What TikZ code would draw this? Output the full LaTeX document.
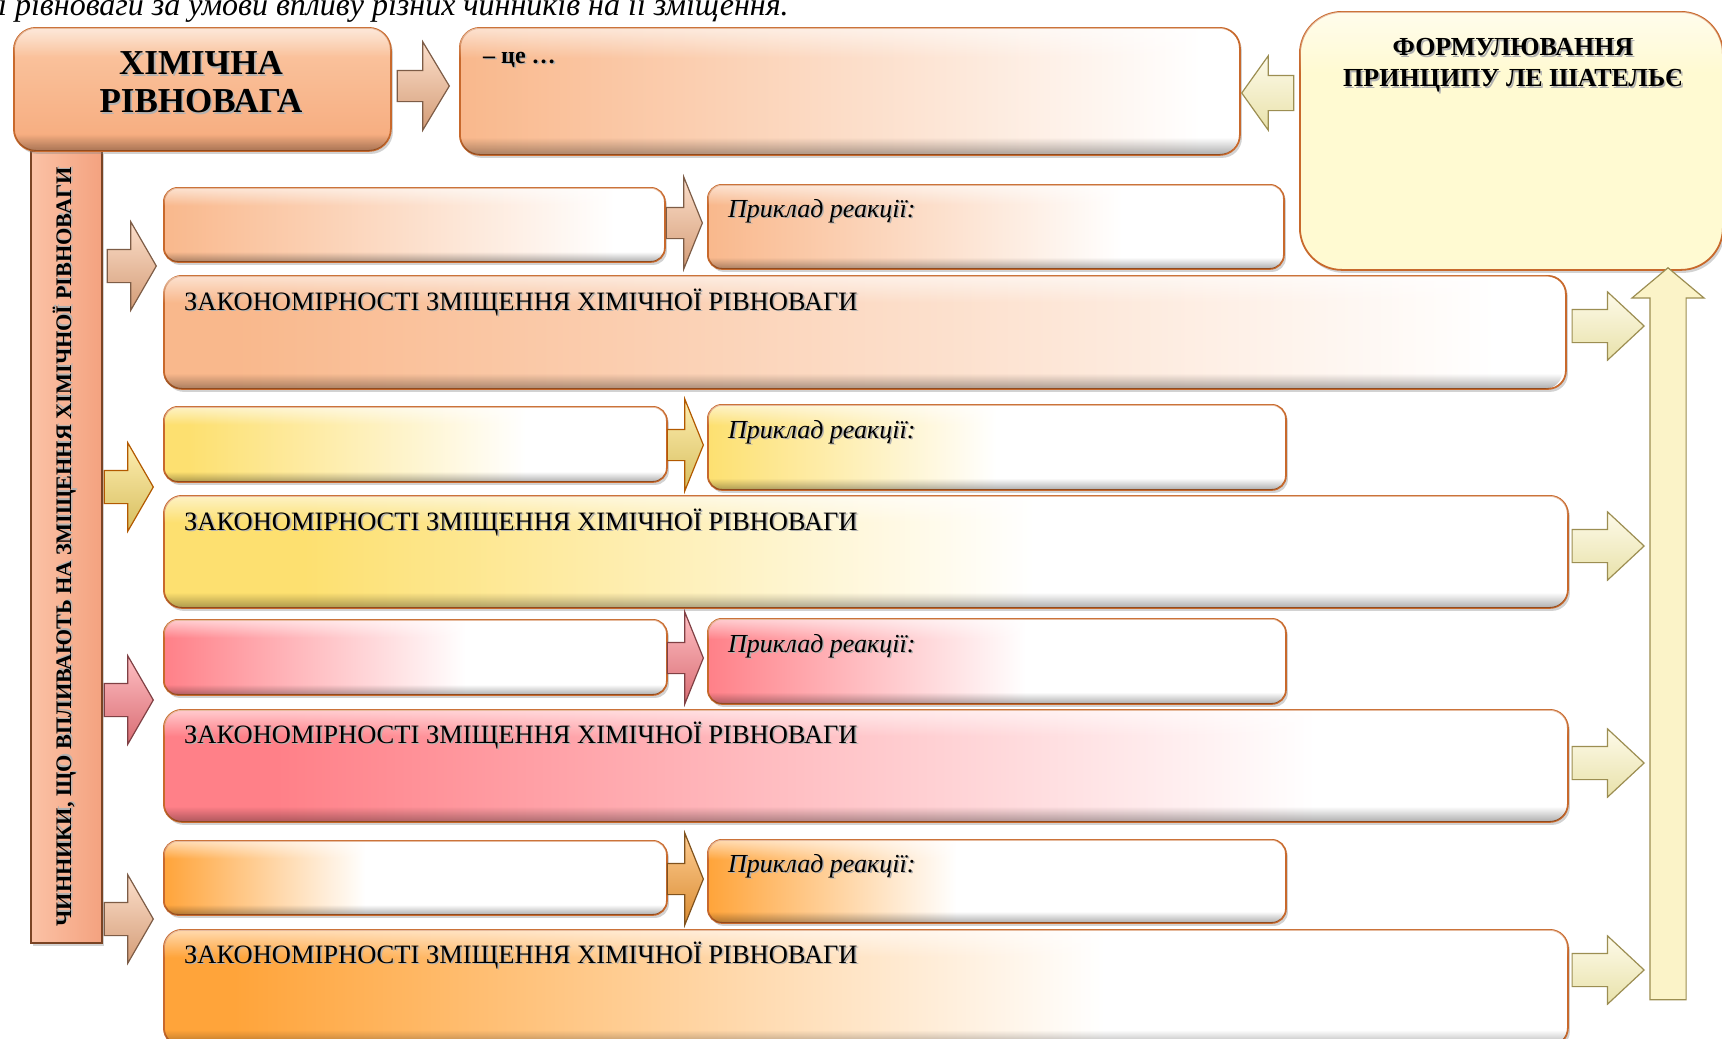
\documentclass[tikz,border=0pt]{standalone}
\usepackage{fontspec}
\setmainfont{Liberation Serif}
\usetikzlibrary{shapes.arrows,shadows,fadings}

% palette
\definecolor{edgeO}{HTML}{C8692C}
\definecolor{peach}{HTML}{F9B88C}
\definecolor{yel}{HTML}{FDE070}
\definecolor{pinkr}{HTML}{FF8088}
\definecolor{orng}{HTML}{FFA43A}
\definecolor{cream}{HTML}{FFFAD2}
\definecolor{creamArr}{HTML}{FBF3C8}
\definecolor{creamEdge}{HTML}{9C8E52}
\definecolor{barTop}{HTML}{FBC2A6}
\definecolor{barBot}{HTML}{F4A27F}
\definecolor{barEdge}{HTML}{7A4424}
\definecolor{hrTop}{HTML}{FBC8A4}
\definecolor{hrBot}{HTML}{F6AA7C}

% left-to-right fades: colour on the left, white towards the right
\pgfdeclarehorizontalshading{defS}{100bp}{color(0bp)=(peach); color(25bp)=(peach); color(72.5bp)=(white); color(100bp)=(white)}
\pgfdeclarehorizontalshading{aOneS}{100bp}{color(0bp)=(peach); color(25bp)=(peach); color(70bp)=(white); color(100bp)=(white)}
\pgfdeclarehorizontalshading{pOneS}{100bp}{color(0bp)=(peach); color(25bp)=(peach); color(61bp)=(white); color(100bp)=(white)}
\pgfdeclarehorizontalshading{zOneS}{100bp}{color(0bp)=(peach); color(27.5bp)=(peach); color(72.5bp)=(white); color(100bp)=(white)}
\pgfdeclarehorizontalshading{aTwoS}{100bp}{color(0bp)=(yel); color(27.5bp)=(yel); color(61bp)=(white); color(100bp)=(white)}
\pgfdeclarehorizontalshading{pTwoS}{100bp}{color(0bp)=(yel); color(25bp)=(yel); color(50bp)=(white); color(100bp)=(white)}
\pgfdeclarehorizontalshading{zTwoS}{100bp}{color(0bp)=(yel); color(30bp)=(yel); color(56bp)=(white); color(100bp)=(white)}
\pgfdeclarehorizontalshading{aThreeS}{100bp}{color(0bp)=(pinkr); color(25bp)=(pinkr); color(55bp)=(white); color(100bp)=(white)}
\pgfdeclarehorizontalshading{pThreeS}{100bp}{color(0bp)=(pinkr); color(25bp)=(pinkr); color(52.5bp)=(white); color(100bp)=(white)}
\pgfdeclarehorizontalshading{zThreeS}{100bp}{color(0bp)=(pinkr); color(29bp)=(pinkr); color(66bp)=(white); color(100bp)=(white)}
\pgfdeclarehorizontalshading{aFourS}{100bp}{color(0bp)=(orng); color(25bp)=(orng); color(45bp)=(white); color(100bp)=(white)}
\pgfdeclarehorizontalshading{pFourS}{100bp}{color(0bp)=(orng); color(25bp)=(orng); color(46.5bp)=(white); color(100bp)=(white)}
\pgfdeclarehorizontalshading{zFourS}{100bp}{color(0bp)=(orng); color(27.5bp)=(orng); color(58.5bp)=(white); color(100bp)=(white)}

% bevel: light band at the top, thin soft shade at the bottom
\pgfdeclareverticalshading{glossS}{100bp}{color(0bp)=(black); color(63bp)=(black); color(74bp)=(black!45); color(100bp)=(black!45)}
\pgfdeclarefading{gloss}{\pgfuseshading{glossS}}
\pgfdeclareverticalshading{lowS}{100bp}{color(0bp)=(black!72); color(26bp)=(black!72); color(32bp)=(black); color(100bp)=(black)}
\pgfdeclarefading{lowshade}{\pgfuseshading{lowS}}

% text with a soft grey offset shadow behind it
\newcommand\shtext[1]{\leavevmode\rlap{\kern1.6pt\raisebox{-1.6pt}{\textcolor{black!30}{#1}}}#1}

\tikzset{
  plainbox/.style={draw=edgeO, line width=1.8pt, anchor=north west, inner sep=0pt,
    rounded corners=14pt,
    drop shadow={shadow xshift=2pt, shadow yshift=-3pt, opacity=0.35},
    postaction={fill=white, path fading=gloss}},
  box/.style={plainbox, postaction={fill=black, path fading=lowshade}},
  blockarrow/.style={single arrow, inner xsep=0pt, line width=1.2pt, anchor=tip},
  peachA/.style={top color=peach!45, bottom color=peach!85!black, draw=peach!50!black},
  yelA/.style={top color=yel!55, bottom color=yel!85!black, draw=orange!70!black},
  pinkA/.style={top color=pinkr!50, bottom color=pinkr!85!black, draw=pinkr!50!black},
  orngA/.style={top color=orng!55, bottom color=orng!85!black, draw=orng!50!black},
  creamA/.style={top color=creamArr!40, bottom color=creamArr!85!olive, draw=creamEdge},
  barrow/.style={blockarrow, minimum height=49pt, inner ysep=16pt,
    single arrow head extend=27.5pt, single arrow tip angle=120},
  midarrow/.style={blockarrow, minimum height=36pt, inner ysep=15pt,
    single arrow head extend=30.5pt, single arrow tip angle=136},
  outarrow/.style={blockarrow, creamA, minimum height=72pt, inner ysep=16pt,
    single arrow head extend=17.5pt, single arrow tip angle=86},
  zfont/.style={font=\fontsize{26.5}{30}\selectfont},
  pfont/.style={font=\itshape\fontsize{26}{30}\selectfont},
}

\begin{document}
\begin{tikzpicture}[x=1pt,y=-1pt]
\useasboundingbox (0,0) rectangle (1722,1039);
\clip (0,0) rectangle (1722,1039);
\fill[white] (0,0) rectangle (1722,1039);

% caption line running into the top edge
\node[anchor=base west, inner sep=0pt, font=\itshape\fontsize{32}{36}\selectfont] (cap) at (-2,15)
  {і рівноваги за умови впливу різних чинників на її зміщення.};

% vertical bar with the factors heading
\node[draw=barEdge, line width=1.5pt, anchor=north west, inner sep=0pt,
  left color=barTop, right color=barBot, minimum width=71pt, minimum height=792pt,
  drop shadow={shadow xshift=2pt, shadow yshift=-3pt, opacity=0.35}] (bar) at (30,150) {};
\node[rotate=90, inner sep=0pt, font=\bfseries\fontsize{22.2}{26}\selectfont] (bart) at (65,547)
  {\shtext{ЧИННИКИ, ЩО ВПЛИВАЮТЬ НА ЗМІЩЕННЯ ХІМІЧНОЇ РІВНОВАГИ}};

% top row
\node[box, rounded corners=22pt, top color=hrTop, bottom color=hrBot,
  minimum width=377pt, minimum height=123pt] (hr) at (13,27) {};
\node[align=center, inner sep=0pt, font=\bfseries\fontsize{35}{38}\selectfont] (hrt) at (201,83)
  {\shtext{ХІМІЧНА}\\\shtext{РІВНОВАГА}};

\node[box, rounded corners=20pt, shading=defS, minimum width=780pt, minimum height=127pt] (def) at (459,27) {};
\node[anchor=base west, inner sep=0pt, font=\bfseries\fontsize{24}{28}\selectfont] (deft)
  at ([xshift=24pt,yshift=-36pt]def.north west) {\shtext{– це …}};

\node[plainbox, rounded corners=42pt, fill=cream, minimum width=423pt, minimum height=258pt] (lc) at (1299,11) {};
\node[align=center, inner sep=0pt, font=\bfseries\fontsize{26}{31}\selectfont] (lct) at (1513,66)
  {\shtext{ФОРМУЛЮВАННЯ}\\\shtext{ПРИНЦИПУ ЛЕ ШАТЕЛЬЄ}};

\node[blockarrow, peachA, minimum height=52pt, inner ysep=15pt,
  single arrow head extend=28.5pt, single arrow tip angle=118] (hrarr) at (450,86) {};
\node[blockarrow, creamA, rotate=180, minimum height=52pt, inner ysep=17pt,
  single arrow head extend=19.5pt, single arrow tip angle=109] (lcarr) at (1241,93) {};

% row 1
\node[box, shading=aOneS, minimum width=501pt, minimum height=74pt] (a1) at (163,187) {};
\node[box, shading=pOneS, minimum width=576pt, minimum height=84pt] (p1) at (707,184) {};
\node[box, rounded corners=18pt, shading=zOneS, minimum width=1402pt, minimum height=113pt] (z1) at (163,275) {};
\node[pfont, anchor=base west, inner sep=0pt] (p1t) at ([xshift=21pt,yshift=-33pt]p1.north west) {\shtext{Приклад реакції:}};
\node[zfont, anchor=base west, inner sep=0pt] (z1t) at ([xshift=21pt,yshift=-35pt]z1.north west) {\shtext{ЗАКОНОМІРНОСТІ ЗМІЩЕННЯ ХІМІЧНОЇ РІВНОВАГИ}};
\node[barrow, peachA] (b1) at (157,266) {};
\node[midarrow, peachA] (m1) at (703,223) {};
\node[outarrow] (o1) at (1645,326) {};

% row 2
\node[box, shading=aTwoS, minimum width=503pt, minimum height=75pt] (a2) at (163,406) {};
\node[box, shading=pTwoS, minimum width=578pt, minimum height=85pt] (p2) at (707,404) {};
\node[box, rounded corners=18pt, shading=zTwoS, minimum width=1404pt, minimum height=112pt] (z2) at (163,495) {};
\node[pfont, anchor=base west, inner sep=0pt] (p2t) at ([xshift=21pt,yshift=-34pt]p2.north west) {\shtext{Приклад реакції:}};
\node[zfont, anchor=base west, inner sep=0pt] (z2t) at ([xshift=21pt,yshift=-35pt]z2.north west) {\shtext{ЗАКОНОМІРНОСТІ ЗМІЩЕННЯ ХІМІЧНОЇ РІВНОВАГИ}};
\node[barrow, yelA] (b2) at (154,487) {};
\node[midarrow, yelA] (m2) at (704,445) {};
\node[outarrow] (o2) at (1645,546) {};

% row 3
\node[box, shading=aThreeS, minimum width=503pt, minimum height=75pt] (a3) at (163,619) {};
\node[box, shading=pThreeS, minimum width=578pt, minimum height=85pt] (p3) at (707,618) {};
\node[box, rounded corners=18pt, shading=zThreeS, minimum width=1404pt, minimum height=112pt] (z3) at (163,709) {};
\node[pfont, anchor=base west, inner sep=0pt] (p3t) at ([xshift=21pt,yshift=-34pt]p3.north west) {\shtext{Приклад реакції:}};
\node[zfont, anchor=base west, inner sep=0pt] (z3t) at ([xshift=21pt,yshift=-34pt]z3.north west) {\shtext{ЗАКОНОМІРНОСТІ ЗМІЩЕННЯ ХІМІЧНОЇ РІВНОВАГИ}};
\node[barrow, pinkA] (b3) at (154,700) {};
\node[midarrow, pinkA] (m3) at (704,658) {};
\node[outarrow] (o3) at (1645,763) {};

% row 4
\node[box, shading=aFourS, minimum width=503pt, minimum height=74pt] (a4) at (163,840) {};
\node[box, shading=pFourS, minimum width=578pt, minimum height=83pt] (p4) at (707,839) {};
\node[box, rounded corners=18pt, shading=zFourS, minimum width=1404pt, minimum height=116pt] (z4) at (163,929) {};
\node[pfont, anchor=base west, inner sep=0pt] (p4t) at ([xshift=21pt,yshift=-33pt]p4.north west) {\shtext{Приклад реакції:}};
\node[zfont, anchor=base west, inner sep=0pt] (z4t) at ([xshift=21pt,yshift=-34pt]z4.north west) {\shtext{ЗАКОНОМІРНОСТІ ЗМІЩЕННЯ ХІМІЧНОЇ РІВНОВАГИ}};
\node[barrow, peachA] (b4) at (154,919) {};
\node[midarrow, orngA] (m4) at (704,879) {};
\node[outarrow] (o4) at (1645,970) {};

% long upward arrow into the Le Chatelier box
\node[blockarrow, fill=creamArr, draw=creamEdge, rotate=90, minimum height=732pt, inner ysep=17.5pt,
  single arrow head extend=18pt, single arrow tip angle=100] (up) at (1668,267) {};
\end{tikzpicture}
\end{document}
